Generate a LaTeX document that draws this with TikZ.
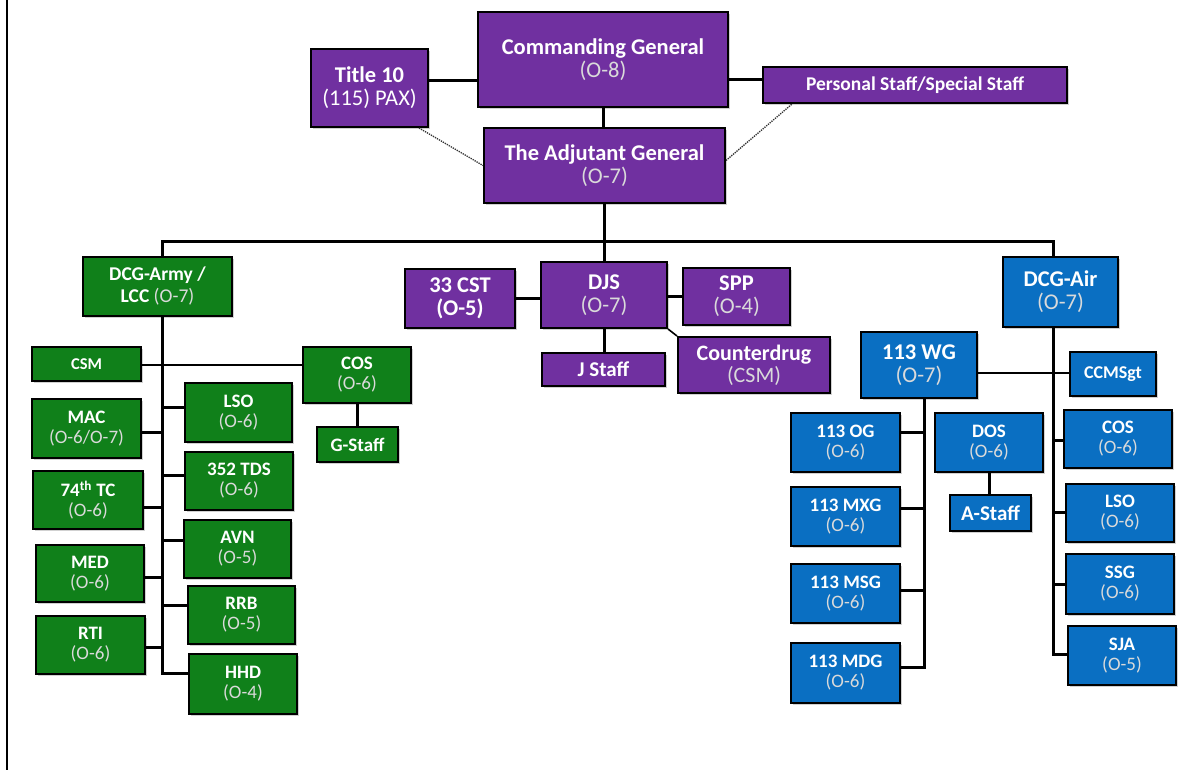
\documentclass[tikz,border=0pt]{standalone}
\usepackage{fontspec}
\setmainfont{Carlito}
\usetikzlibrary{shadows}
\definecolor{purp}{HTML}{7030A0}
\definecolor{grn}{HTML}{10801A}
\definecolor{blu}{HTML}{0A6FC2}
\definecolor{rk}{HTML}{DADADA}
\newcommand\rkt[1]{{\mdseries\color{rk}#1}}
\newcommand\hfont{\fontsize{22.5}{22}\selectfont\bfseries}
\newcommand\fsz[1]{\fontsize{#1}{#1}\selectfont\bfseries}
\begin{document}
\begin{tikzpicture}[x=1pt,y=-1pt,
  box/.style={draw=black, line width=2pt, inner sep=0pt, align=center, text=white,
    font=\fontsize{19}{20}\selectfont\bfseries,
    drop shadow={shadow xshift=2pt, shadow yshift=-2pt, opacity=0.18, fill=black}},
  pbox/.style={box, fill=purp},
  gbox/.style={box, fill=grn},
  bbox/.style={box, fill=blu},
  sz/.style 2 args={minimum width=#1pt, minimum height=#2pt},
  conn/.style={line width=3pt, black},
  thin/.style={line width=2.2pt, black},
  dotl/.style={densely dotted, line width=1.3pt, black!80}]
\useasboundingbox (0,0) rectangle (1190,770);
\fill[white] (0,0) rectangle (1190,770);
\draw[line width=2.8pt] (7,0) -- (7,770);

% ---------- top (purple) ----------
\node[pbox, sz={250}{95}, font=\hfont] (cg) at (603,59.5) {Commanding General\\[1pt]\rkt{(O-8)}};
\node[pbox, sz={117}{78}, font=\hfont] (t10) at (369.5,88) {Title 10\\[1pt]\mdseries (115) PAX)};
\node[pbox, sz={241}{75}, font=\hfont] (ag) at (604.5,165.5) {The Adjutant General\\[1pt]\rkt{(O-7)}};
\node[pbox, sz={304}{36}, font=\fsz{19.5}] (ps) at (915,85) {Personal Staff/Special Staff};

% ---------- middle (purple) ----------
\node[pbox, sz={126}{66}, font=\hfont] (djs) at (604,295) {DJS\\[1pt]\rkt{(O-7)}};
\node[pbox, sz={110}{59}, font=\hfont] (cst) at (460,298.5) {33 CST\\[1pt](O-5)};
\node[pbox, sz={107}{57}, font=\hfont] (spp) at (736.5,296.5) {SPP\\[1pt]\rkt{(O-4)}};
\node[pbox, sz={123}{33}, font=\fsz{21}] (jst) at (603.5,369.5) {J Staff};
\node[pbox, sz={152}{56}, font=\fontsize{22}{21}\selectfont\bfseries] (cdr) at (754,365) {Counterdrug\\[1pt]\rkt{(CSM)}};

% ---------- green ----------
\node[gbox, sz={149}{59}, font=\fontsize{19.5}{21}\selectfont\bfseries] (army) at (157.5,286.5) {DCG-Army /\\[1pt]LCC \rkt{(O-7)}};
\node[gbox, sz={109}{34}, font=\fsz{16.5}] (csm) at (86.5,364) {CSM};
\node[gbox, sz={108}{56}] (gcos) at (357,375) {COS\\\rkt{(O-6)}};
\node[gbox, sz={81}{35}, font=\fsz{19}] (gst) at (357.5,444.5) {G-Staff};
\node[gbox, sz={107}{59}] (glso) at (238.5,412.5) {LSO\\\rkt{(O-6)}};
\node[gbox, sz={109}{59}] (mac) at (86.5,428.5) {MAC\\\rkt{(O-6/O-7)}};
\node[gbox, sz={108}{58}] (tds) at (239,481) {352 TDS\\\rkt{(O-6)}};
\node[gbox, sz={110}{58}] (tc) at (88,500) {74\textsuperscript{th} TC\\\rkt{(O-6)}};
\node[gbox, sz={107}{58}] (avn) at (237.5,549) {AVN\\\rkt{(O-5)}};
\node[gbox, sz={108}{57}] (med) at (90,573.5) {MED\\\rkt{(O-6)}};
\node[gbox, sz={107}{58}] (rrb) at (241.5,615) {RRB\\\rkt{(O-5)}};
\node[gbox, sz={109}{58}] (rti) at (90.5,645) {RTI\\\rkt{(O-6)}};
\node[gbox, sz={108}{60}] (hhd) at (243,684) {HHD\\\rkt{(O-4)}};

% ---------- blue ----------
\node[bbox, sz={115}{70}, font=\hfont] (air) at (1060.5,292) {DCG-Air\\[1pt]\rkt{(O-7)}};
\node[bbox, sz={116}{66}, font=\hfont] (wg) at (919,365) {113 WG\\[1pt]\rkt{(O-7)}};
\node[bbox, sz={86}{44}, font=\fsz{18}] (ccm) at (1113,374) {CCMSgt};
\node[bbox, sz={109}{59}] (og) at (845.5,442.5) {113 OG\\\rkt{(O-6)}};
\node[bbox, sz={108}{59}] (dos) at (989,442.5) {DOS\\\rkt{(O-6)}};
\node[bbox, sz={81}{36}, font=\fsz{21}] (ast) at (990.5,513) {A-Staff};
\node[bbox, sz={108}{58}] (bcos) at (1118,439) {COS\\\rkt{(O-6)}};
\node[bbox, sz={108}{58}] (blso) at (1120,513) {LSO\\\rkt{(O-6)}};
\node[bbox, sz={108}{60}] (ssg) at (1120,584) {SSG\\\rkt{(O-6)}};
\node[bbox, sz={108}{59}] (sja) at (1122,655.5) {SJA\\\rkt{(O-5)}};
\node[bbox, sz={109}{59}] (mxg) at (845.5,516.5) {113 MXG\\\rkt{(O-6)}};
\node[bbox, sz={109}{59}] (msg) at (845.5,593.5) {113 MSG\\\rkt{(O-6)}};
\node[bbox, sz={109}{60}] (mdg) at (845.5,673) {113 MDG\\\rkt{(O-6)}};

% ---------- junction coordinates ----------
\coordinate (bar) at (604,241);
\coordinate (jT10) at (0,81);
\coordinate (jPS) at (0,80);
\coordinate (jLSO) at (162,407);
\coordinate (jMAC) at (162,432);
\coordinate (jTDS) at (162,475);
\coordinate (jTC) at (162,507);
\coordinate (jAVN) at (162,540);
\coordinate (jMED) at (162,577);
\coordinate (jRRB) at (162,605);
\coordinate (jRTI) at (162,647);
\coordinate (jHHD) at (162,673);
\coordinate (jCSM) at (0,365);
\coordinate (jBCOS) at (1053,440);
\coordinate (jBLSO) at (1053,512);
\coordinate (jSSG) at (1053,584);
\coordinate (jSJA) at (1053,654);
\coordinate (jCCM) at (0,373);
\coordinate (jOG) at (924,432);
\coordinate (jMXG) at (924,508);
\coordinate (jMSG) at (924,590);
\coordinate (jMDG) at (924,667);

% ---------- connectors ----------
\draw[conn] (t10.east |- jT10) -- (cg.west |- jT10);
\draw[conn] (cg.east |- jPS) -- (ps.west |- jPS);
\draw[conn] (cg.south) -- (cg.south |- ag.north);
\draw[dotl] ([xshift=-10pt]t10.south east) -- (ag.west);
\draw[dotl] ([yshift=5pt]ag.east) -- ([xshift=30pt]ps.south west);
\draw[conn] (ag.south) -- (ag.south |- djs.north);
\draw[conn] (jHHD |- army.north) |- (bar) -| (jSJA |- air.north);

\draw[conn] (cst.east) -- (cst.east -| djs.west);
\draw[conn] (spp.west) -- (spp.west -| djs.east);
\draw[conn] (djs.south) -- (djs.south |- jst.north);
\draw[line width=1.6pt] (djs.south east) -- (cdr.north west);

% green tree
\draw[conn] (jHHD |- army.south) -- (jHHD) -- (jHHD -| hhd.west);
\draw[thin] (csm.east |- jCSM) -- (gcos.west |- jCSM);
\draw[conn] (gcos.south) -- (gcos.south |- gst.north);
\draw[conn] (jLSO) -- (jLSO -| glso.west);
\draw[conn] (jTDS) -- (jTDS -| tds.west);
\draw[conn] (jAVN) -- (jAVN -| avn.west);
\draw[conn] (jRRB) -- (jRRB -| rrb.west);
\draw[conn] (jMAC) -- (jMAC -| mac.east);
\draw[conn] (jTC) -- (jTC -| tc.east);
\draw[conn] (jMED) -- (jMED -| med.east);
\draw[conn] (jRTI) -- (jRTI -| rti.east);

% blue tree
\draw[conn] (jSJA |- air.south) -- (jSJA) -- (jSJA -| sja.west);
\draw[conn] (jBCOS) -- (jBCOS -| bcos.west);
\draw[conn] (jBLSO) -- (jBLSO -| blso.west);
\draw[conn] (jSSG) -- (jSSG -| ssg.west);
\draw[thin] (wg.east |- jCCM) -- (ccm.west |- jCCM);
\draw[conn] (jMDG |- wg.south) -- (jMDG) -- (jMDG -| mdg.east);
\draw[conn] (jOG) -- (jOG -| og.east);
\draw[conn] (jMXG) -- (jMXG -| mxg.east);
\draw[conn] (jMSG) -- (jMSG -| msg.east);
\draw[conn] (dos.south) -- (dos.south |- ast.north);
\end{tikzpicture}
\end{document}
